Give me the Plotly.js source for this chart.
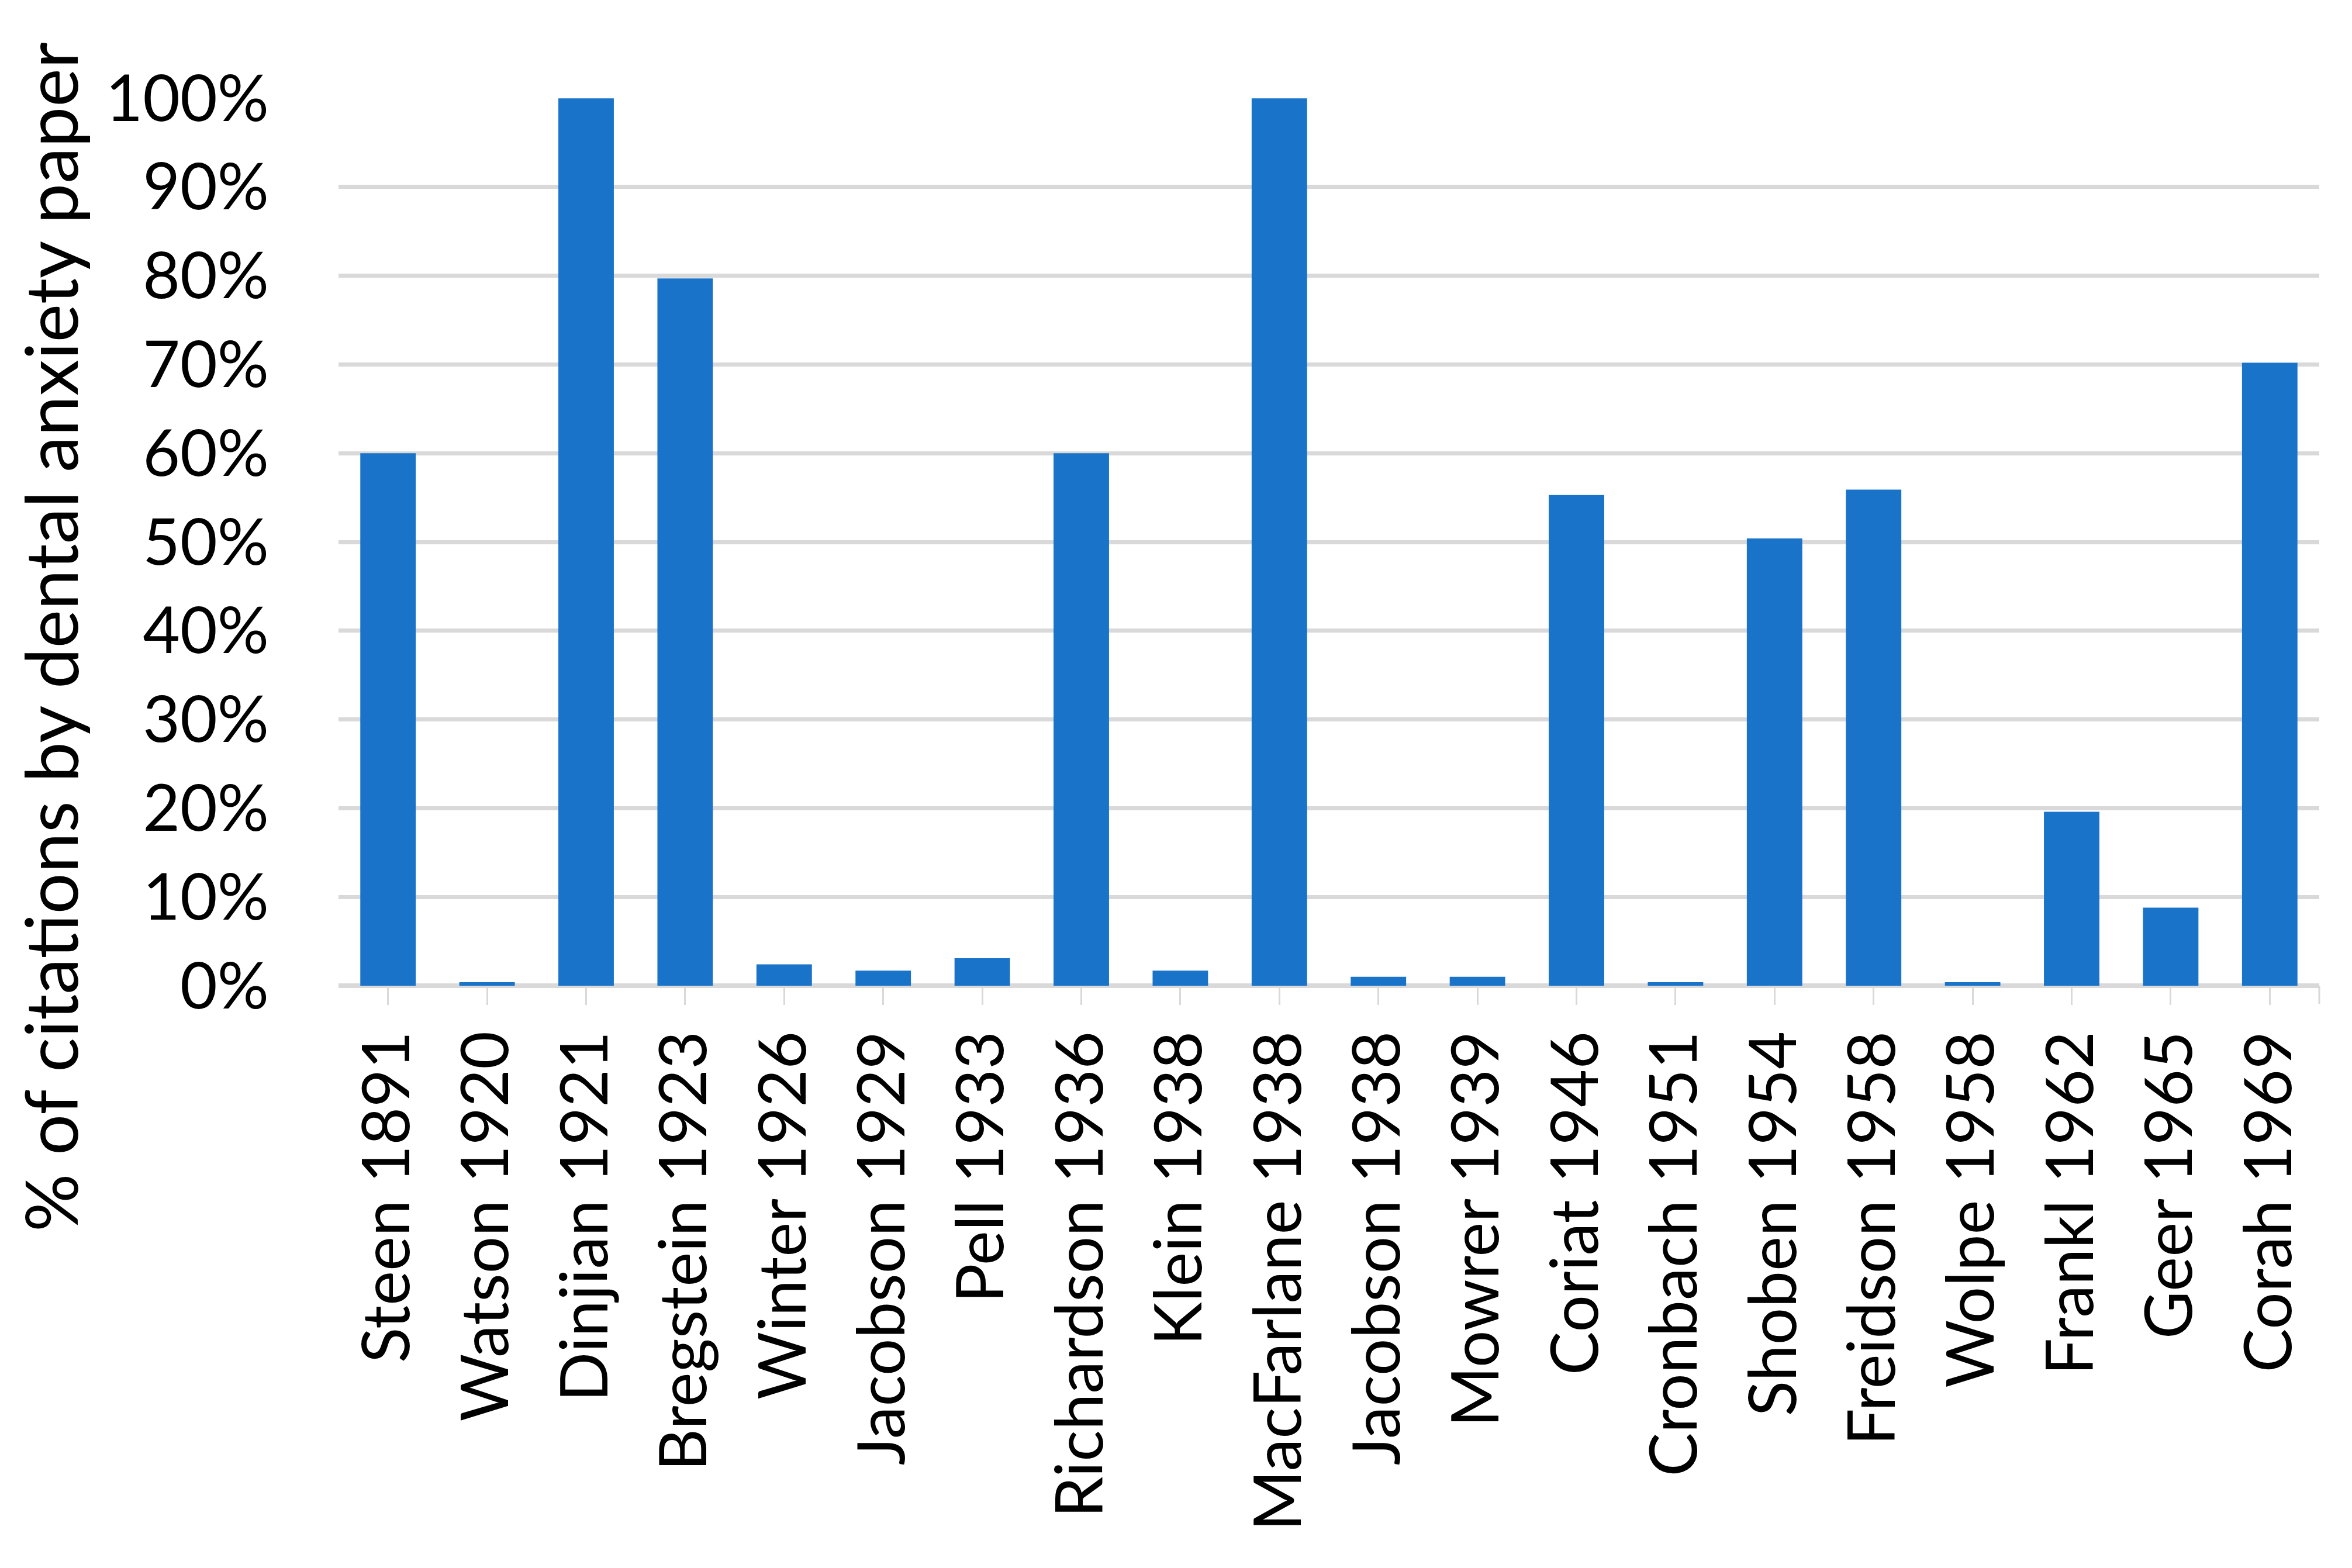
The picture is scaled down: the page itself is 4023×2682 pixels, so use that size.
<!DOCTYPE html>
<html>
<head>
<meta charset="utf-8">
<script src="https://cdn.plot.ly/plotly-3.0.1.min.js"></script>
<style>
html, body { margin: 0; padding: 0; background: #ffffff; }
#chart { width: 4023px; height: 2682px; }
</style>
</head>
<body>
<div id="chart"></div>
<script>
// Categories (author + year) and share of citations by dental anxiety papers
const categories = [
  "Steen 1891", "Watson 1920", "Dinjian 1921", "Bregstein 1923", "Winter 1926",
  "Jacobson 1929", "Pell 1933", "Richardson 1936", "Klein 1938", "MacFarlane 1938",
  "Jacobson 1938", "Mowrer 1939", "Coriat 1946", "Cronbach 1951", "Shoben 1954",
  "Freidson 1958", "Wolpe 1958", "Frankl 1962", "Geer 1965", "Corah 1969"
];
const shareValues = [
  0.600, 0.004, 1.000, 0.797, 0.024,
  0.017, 0.031, 0.600, 0.017, 1.000,
  0.010, 0.010, 0.553, 0.004, 0.504,
  0.559, 0.004, 0.196, 0.088, 0.702
];
const yTickValues = [0, 0.1, 0.2, 0.3, 0.4, 0.5, 0.6, 0.7, 0.8, 0.9, 1.0];
const yTickLabels = ["0%", "10%", "20%", "30%", "40%", "50%", "60%", "70%", "80%", "90%", "100%"];
const yTitle = "% of citations by dental anxiety paper";

const FONT = "Lato, 'Open Sans', sans-serif";
const GRID = "#d9d9d9";

const trace = {
  type: "bar",
  x: categories,
  y: shareValues,
  marker: { color: "#1873C9", line: { width: 0 } },
  cliponaxis: false,
  hoverinfo: "x+y"
};

const layout = {
  width: 4023,
  height: 2682,
  paper_bgcolor: "#ffffff",
  plot_bgcolor: "#ffffff",
  margin: { l: 579, r: 56, t: 168, b: 996, pad: 0 },
  showlegend: false,
  bargap: 0.44,
  font: { family: FONT, color: "#000000", size: 110 },
  xaxis: {
    type: "category",
    tickangle: -90,
    ticks: "outside",
    ticklen: 32,
    tickwidth: 3,
    tickcolor: GRID,
    showgrid: false,
    showline: false,
    zeroline: false,
    tickfont: { family: FONT, size: 112, color: "#000000" },
    automargin: false
  },
  yaxis: {
    range: [0, 1.0001],
    tickmode: "array",
    tickvals: yTickValues,
    ticktext: yTickLabels,
    ticks: "",
    ticklabelstandoff: 118,
    showgrid: true,
    gridcolor: GRID,
    gridwidth: 7,
    zeroline: true,
    zerolinecolor: GRID,
    zerolinewidth: 8,
    showline: false,
    tickfont: { family: FONT, size: 110, color: "#000000" },
    automargin: false
  },
  annotations: [{
    text: yTitle,
    xref: "paper", yref: "paper",
    x: -0.1458, y: 0.3926,
    xanchor: "center", yanchor: "middle",
    textangle: -90,
    showarrow: false,
    font: { family: FONT, size: 124, color: "#000000" }
  }],
  shapes: [{
    type: "line",
    xref: "paper", yref: "paper",
    x0: 1, x1: 1, y0: 0, y1: -0.0205,
    line: { color: GRID, width: 3 }
  }]
};

Plotly.newPlot("chart", [trace], layout, { displayModeBar: false, staticPlot: true });
</script>
</body>
</html>
